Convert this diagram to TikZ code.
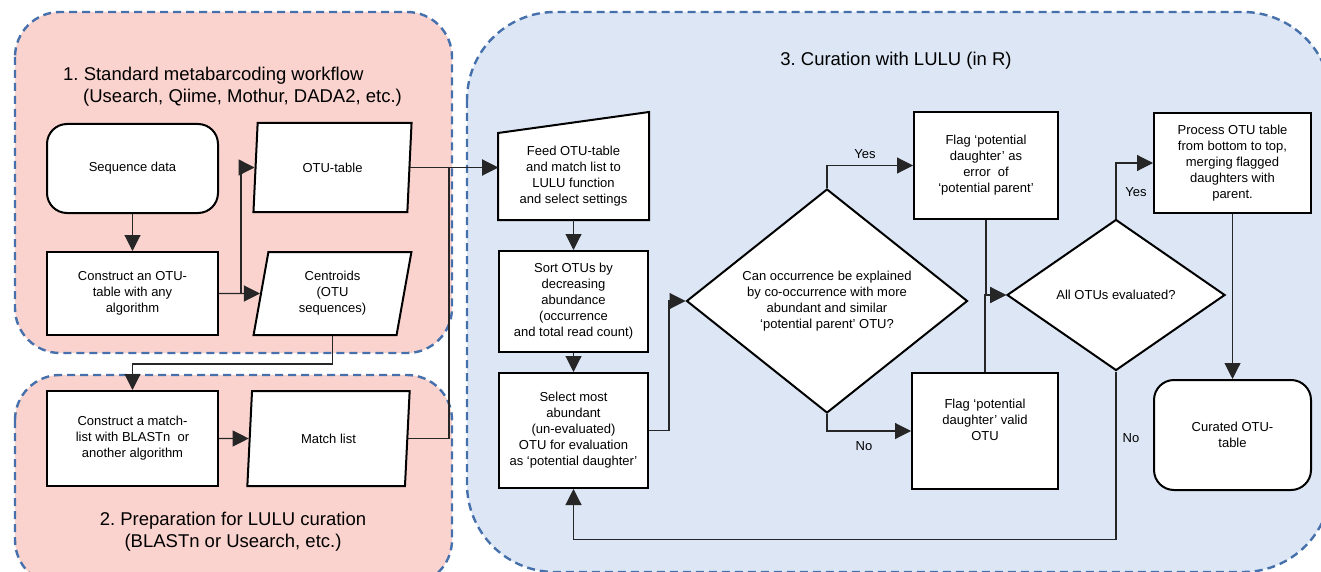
\documentclass[tikz,border=0pt]{standalone}
\usepackage{fontspec}
\setmainfont{Liberation Sans}
\frenchspacing
\usepackage{tikz}
\usetikzlibrary{arrows.meta, shapes.geometric}
\definecolor{pinkfill}{HTML}{FAD3CE}
\definecolor{bluefill}{HTML}{DCE6F5}
\definecolor{dashblue}{HTML}{4670AC}

\begin{document}
\begin{tikzpicture}[x = 1pt, y = -1pt,
        group/.style = {draw = dashblue, line width = 2.4pt, dash pattern = on 8pt off 5pt},
        box/.style = {draw = black, fill = white, line width = 2pt, align = center, inner sep = 0pt, font = {\fontsize{13}{16}\selectfont}},
        data/.style = {box, trapezium, trapezium left angle = 80, trapezium right angle = 100, trapezium stretches = true},
        decision/.style = {box, diamond},
        flow/.style = {line width = 1.1pt, draw = black!85, -{Triangle[length = 16pt, width = 16pt]}},
        heading/.style = {font = {\fontsize{18.5}{22}\selectfont}, inner sep = 0pt},
        answer/.style = {font = {\fontsize{13}{16}\selectfont}, inner sep = 0pt}]
        \useasboundingbox (0, 0) rectangle (1321, 572);
        \clip (0, 0) rectangle (1321, 572);

        \draw[group, fill = pinkfill, rounded corners = 45pt] (15, 12) rectangle (452, 353);
        \draw[group, fill = pinkfill, rounded corners = 45pt] (15, 375) rectangle (452, 585);
        \draw[group, fill = bluefill, rounded corners = 88pt] (467, 12) rectangle (1331, 572);

        \node[heading, anchor = west, align = left] (title1) at (63, 87) {1. Standard metabarcoding workflow\\\hspace*{20pt}(Usearch, Qiime, Mothur, DADA2, etc.)};
        \node[heading, align = center] (title2) at (233, 532) {2. Preparation for LULU curation\\(BLASTn or Usearch, etc.)};
        \node[heading] (title3) at (896, 61) {3. Curation with LULU (in R)};

        \node[box, rounded corners = 20pt, minimum width = 171pt, minimum height = 89pt] (seqdata) at (132.5, 168.5) {Sequence data};
        \node[box, minimum width = 171pt, minimum height = 83pt] (otumake) at (132.5, 293.5) {Construct an OTU-\\table with any\\algorithm};
        \node[data, minimum width = 159pt, minimum height = 89pt] (otutable) at (332.5, 167.5) {OTU-table};
        \node[data, minimum width = 159pt, minimum height = 83pt] (centroids) at (332.5, 293.5) {Centroids\\(OTU\\sequences)};
        \node[box, minimum width = 171pt, minimum height = 95pt] (matchmake) at (132.5, 438.5) {Construct a match-\\list with BLASTn~ or\\another algorithm};
        \node[data, minimum width = 163pt, minimum height = 95pt] (matchlist) at (328.5, 438.5) {Match list};

        \node[box, draw = none, minimum width = 149pt, minimum height = 85pt] (feed) at (573.5, 176.5) {Feed OTU-table\\and match list to\\LULU function\\and select settings};
        \fill[white] (feed.north west) -- ([yshift = 21pt]feed.north east) -- ([yshift = -3pt]feed.north east) -- ([yshift = -3pt]feed.north west) -- cycle;
        \draw[line width = 2pt] (feed.north west) -- ([yshift = 21pt]feed.north east) -- (feed.south east) -- (feed.south west) -- cycle;
        \node[box, minimum width = 149pt, minimum height = 101pt] (sort) at (573.5, 301.5) {Sort OTUs by\\decreasing\\abundance\\(occurrence\\and total read count)};
        \node[box, minimum width = 149pt, minimum height = 115pt] (select) at (573.5, 430.5) {Select most\\abundant\\(un-evaluated)\\OTU for evaluation\\as ‘potential daughter’};
        \node[decision, shape aspect = 1.25, minimum width = 281pt, minimum height = 224pt] (cooccur) at (827, 301) {Can occurrence be explained\\by co-occurrence with more\\abundant and similar\\‘potential parent’ OTU?};
        \node[box, minimum width = 144pt, minimum height = 107pt] (flagerror) at (986, 165.5) {Flag ‘potential\\daughter’ as\\error~ of\\‘potential parent’};
        \node[box, minimum width = 146pt, minimum height = 116pt] (flagvalid) at (985, 431) {Flag ‘potential\\daughter’ valid\\OTU\\[6pt]};
        \node[decision, shape aspect = 1.44, minimum width = 218pt, minimum height = 151pt] (alldone) at (1116, 295) {All OTUs evaluated?};
        \node[box, minimum width = 157pt, minimum height = 100pt] (process) at (1232.5, 163) {Process OTU table\\from bottom to top,\\merging flagged\\daughters with\\parent.};
        \node[box, rounded corners = 20pt, minimum width = 157pt, minimum height = 110pt] (curated) at (1232.5, 435) {Curated OTU-\\table};

        \coordinate (merge) at (449, 167.5);

        \draw[flow] (seqdata.south) -- (otumake.north);
        \draw[flow] (otumake.east) -- (centroids.west);
        \draw[flow] (otumake.east) -- ++(22, 0) |- (otutable.west);
        \draw[flow] (otutable.east) -- (otutable.east -| feed.west);
        \draw[flow] (matchlist.east) -| (merge) -- (merge -| feed.west);
        \draw[flow] (centroids.center |- centroids.south) -- ++(0, 28) -| (matchmake.north);
        \draw[flow] (matchmake.east) -- (matchlist.west);

        \draw[flow] (feed.south) -- (sort.north);
        \draw[flow] (sort.south) -- (select.north);
        \draw[flow] (select.east) -- ++(20, 0) |- (cooccur.west);
        \draw[flow] (cooccur.north) |- (flagerror.west);
        \draw[flow] (cooccur.south) |- (flagvalid.west);
        \draw[flow] (flagerror.south) |- (alldone.west);
        \draw[flow] (flagvalid.north) |- (alldone.west);
        \draw[flow] (alldone.north) |- (process.west);
        \draw[flow] (alldone.south) -- ++(0, 168) -| (select.south);
        \draw[flow] (process.south) -- (curated.north);

        \node[answer] (yes1) at (865, 154) {Yes};
        \node[answer] (no1) at (864, 446) {No};
        \node[answer] (yes2) at (1136, 192) {Yes};
        \node[answer] (no2) at (1131, 438) {No};
    \end{tikzpicture}
\end{document}
